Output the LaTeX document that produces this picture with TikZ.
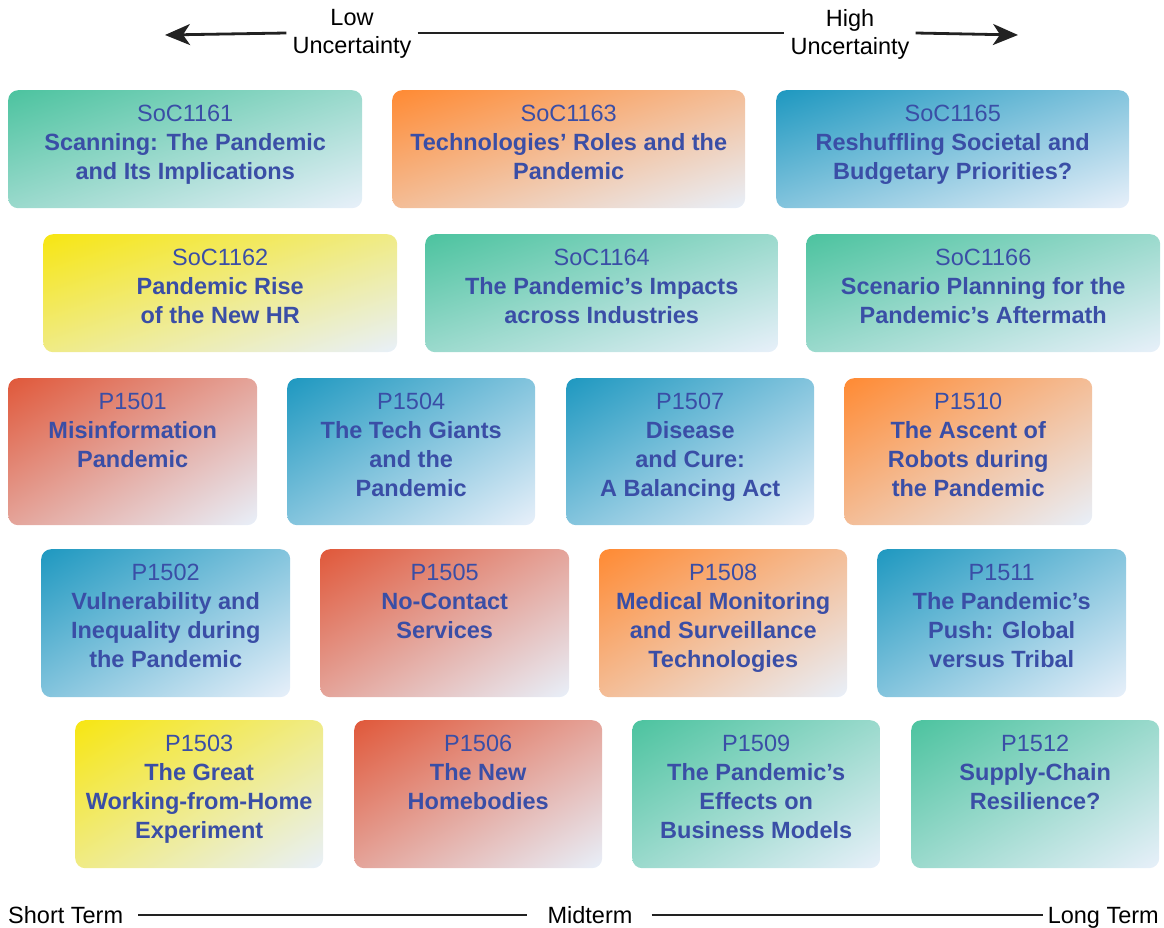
\documentclass[tikz,border=0pt]{standalone}
\usepackage{fontspec}
\setmainfont{Liberation Sans}
\usetikzlibrary{arrows.meta}
\definecolor{cgreen}{HTML}{4CC39F}
\definecolor{cblue}{HTML}{1E98C0}
\definecolor{corange}{HTML}{FF8A33}
\definecolor{cyellow}{HTML}{F7E612}
\definecolor{cred}{HTML}{E0583A}
\definecolor{clight}{HTML}{E8F0FA}
\definecolor{ctext}{HTML}{3A4EA6}
\definecolor{cline}{HTML}{222222}
\colorlet{cardcol}{cgreen}
\pgfdeclarefunctionalshading[cardcol]{diagcard}{\pgfpointorigin}{\pgfpoint{100bp}{100bp}}
{\pgfshadecolortorgb{cardcol}{\cardrgb}}
{sub 50 add 100 div dup 1 exch sub
 1 index 0.910 mul 1 index \cardrgbred\space mul add
 2 index 0.941 mul 2 index \cardrgbgreen\space mul add
 3 index 0.980 mul 3 index \cardrgbblue\space mul add
 5 3 roll pop pop}
\newcommand\card[8]{%
  \colorlet{cardcol}{#6}%
  \node[card, minimum width=#4, minimum height=#5] (#1) at (#2,#3) {};
  \node[cardtext] (#1t) at ([yshift=-11.2pt]#1.north) {\mdseries\strut #7\\#8};
}
\begin{document}
\begin{tikzpicture}[x=1pt,y=-1pt,
  card/.style={rounded corners=10pt, anchor=north west, inner sep=0pt, draw=none,
     shade, shading=diagcard},
  cardtext/.style={anchor=north, align=center, inner sep=0pt, text=ctext,
     font=\fontsize{23.5}{29}\selectfont\bfseries},
  axislabel/.style={inner sep=0pt, font=\fontsize{23.5}{28}\selectfont, text=black, align=center},
  axisline/.style={line width=2.8pt, draw=cline},
  axisarrow/.style={axisline, -{Stealth[length=25pt, width=21pt, inset=7pt]}}]
\useasboundingbox (0,0) rectangle (1164,928);
% top axis
\node[axislabel] (low) at (352,34) {Low\\Uncertainty};
\node[axislabel] (high) at (850,34) {High\\Uncertainty};
\coordinate (lend) at (165,35);
\coordinate (rend) at (1018,35);
\draw[axisarrow] ([xshift=-6pt,yshift=1pt]low.west) -- (lend);
\draw[axisline] ([xshift=6pt,yshift=1pt]low.east) -- ([xshift=-6pt,yshift=1pt]high.west);
\draw[axisarrow] ([xshift=6pt,yshift=1pt]high.east) -- (rend);
% row 1
\card{s1161}{8}{90}{354}{118}{cgreen}{SoC1161}{Scanning: The Pandemic\\and Its Implications}
\card{s1163}{392}{90}{353}{118}{corange}{SoC1163}{Technologies’ Roles and the\\Pandemic}
\card{s1165}{776}{90}{353}{118}{cblue}{SoC1165}{Reshuffling Societal and\\Budgetary Priorities?}
% row 2
\card{s1162}{43}{234}{354}{118}{cyellow}{SoC1162}{Pandemic Rise\\of the New HR}
\card{s1164}{425}{234}{353}{118}{cgreen}{SoC1164}{The Pandemic’s Impacts\\across Industries}
\card{s1166}{806}{234}{354}{118}{cgreen}{SoC1166}{Scenario Planning for the\\Pandemic’s Aftermath}
% row 3
\card{p1501}{8}{378}{249}{147}{cred}{P1501}{Misinformation\\Pandemic}
\card{p1504}{287}{378}{248}{147}{cblue}{P1504}{The Tech Giants\\and the\\Pandemic}
\card{p1507}{566}{378}{248}{147}{cblue}{P1507}{Disease\\and Cure:\\A Balancing Act}
\card{p1510}{844}{378}{248}{147}{corange}{P1510}{The Ascent of\\Robots during\\the Pandemic}
% row 4
\card{p1502}{41}{549}{249}{148}{cblue}{P1502}{Vulnerability and\\Inequality during\\the Pandemic}
\card{p1505}{320}{549}{249}{148}{cred}{P1505}{No-Contact\\Services}
\card{p1508}{599}{549}{248}{148}{corange}{P1508}{Medical Monitoring\\and Surveillance\\Technologies}
\card{p1511}{877}{549}{249}{148}{cblue}{P1511}{The Pandemic’s\\Push: Global\\versus Tribal}
% row 5
\card{p1503}{75}{720}{248}{148}{cyellow}{P1503}{The Great\\Working-from-Home\\Experiment}
\card{p1506}{354}{720}{248}{148}{cred}{P1506}{The New\\Homebodies}
\card{p1509}{632}{720}{248}{148}{cgreen}{P1509}{The Pandemic’s\\Effects on\\Business Models}
\card{p1512}{911}{720}{248}{148}{cgreen}{P1512}{Supply-Chain\\Resilience?}
% bottom axis
\node[axislabel, anchor=base west] (short) at (8,923) {Short Term};
\node[axislabel, anchor=base] (mid) at (590,923) {Midterm};
\node[axislabel, anchor=base east] (long) at (1159,923) {Long Term};
\draw[axisline] (short.east |- 0,915) ++(15,0) -- ([xshift=-20pt]mid.west |- 0,915);
\draw[axisline] (mid.east |- 0,915) ++(19,0) -- ([xshift=-5pt]long.west |- 0,915);
\end{tikzpicture}
\end{document}
